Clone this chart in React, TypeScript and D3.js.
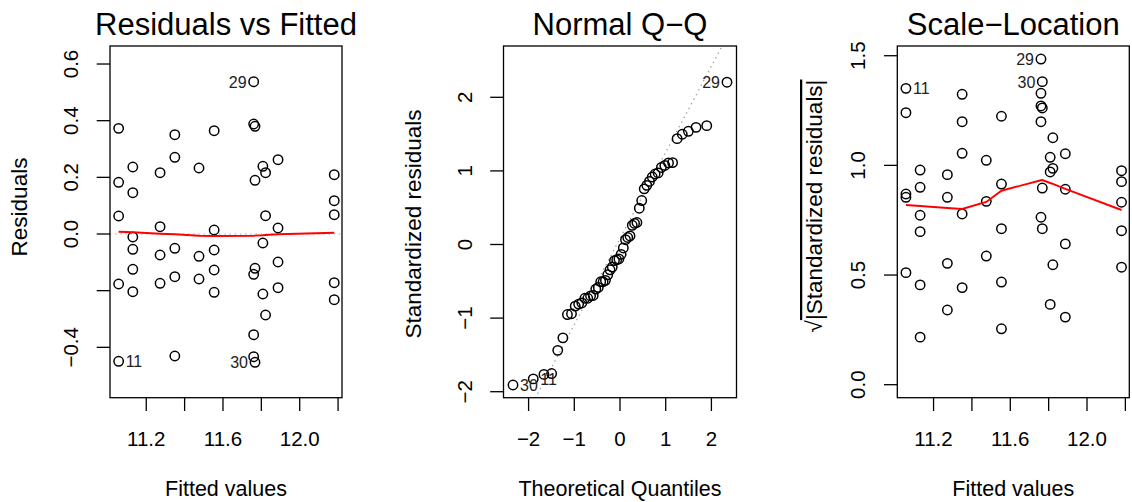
import React from "react";
import * as d3 from "d3";

const FONT = "'Liberation Sans', Arial, Helvetica, sans-serif";

// ---------------- data ----------------
// fitted value of each observation (11 fitted levels, one split in two)
const fitted = [
  11.056, 11.056, 11.056, 11.056, 11.056,
  11.13, 11.13, 11.13, 11.13, 11.13, 11.13,
  11.272, 11.272, 11.272, 11.272,
  11.349, 11.349, 11.349, 11.349, 11.349,
  11.475, 11.475, 11.475,
  11.554, 11.554, 11.554, 11.554, 11.554,
  11.76, 11.76, 11.76, 11.76, 11.76,
  11.767, 11.767, 11.767, 11.767,
  11.808, 11.808, 11.808,
  11.822, 11.822, 11.822,
  11.887, 11.887, 11.887, 11.887,
  12.18, 12.18, 12.18, 12.18, 12.18,
];
const residuals = [
  0.373, 0.1825, 0.0635, -0.1765, -0.4493,
  0.2365, 0.1458, -0.0106, -0.054, -0.1246, -0.2037,
  0.2164, 0.0258, -0.0741, -0.174,
  0.3505, 0.2707, -0.0505, -0.1507, -0.4306,
  0.233, -0.0787, -0.1588,
  0.3646, 0.0141, -0.0565, -0.1271, -0.2058,
  0.5376, 0.3883, -0.1423, -0.3555, -0.4331,
  0.3802, 0.1896, -0.1211, -0.4529,
  0.239, -0.0318, -0.2118,
  0.2164, 0.0646, -0.2859,
  0.2623, 0.0212, -0.0988, -0.1896,
  0.2093, 0.1176, 0.0681, -0.1719, -0.2319,
];
const stdResiduals = [
  1.538, 0.756, 0.261, -0.73, -1.826,
  0.958, 0.597, -0.047, -0.207, -0.487, -0.81,
  0.917, 0.116, -0.306, -0.73,
  1.438, 1.113, -0.196, -0.606, -1.753,
  1.047, -0.344, -0.699,
  1.498, 0.065, -0.219, -0.506, -0.837,
  2.205, 1.615, -0.583, -1.438, -1.765,
  1.592, 0.804, -0.506, -1.909,
  1.075, -0.134, -0.941,
  0.973, 0.299, -1.268,
  1.109, 0.095, -0.412, -0.794,
  0.857, 0.493, 0.287, -0.692, -0.952,
];
// observation ids of the labelled points (index into the arrays above)
const idIndex = [4, 28, 36];
const idLabels = ["11", "29", "30"];

// lowess smooths read at each fitted level
const smoothX = [11.056, 11.13, 11.272, 11.349, 11.475, 11.554, 11.76, 11.767, 11.808, 11.822, 11.887, 12.18];
const smoothResid = [0.0081, 0.006, 0.0011, -0.0011, -0.006, -0.0071, -0.006, -0.0058, -0.0046, -0.0035, -0.0011, 0.0046];
const smoothScale = [0.8193, 0.8147, 0.8056, 0.8011, 0.833, 0.8845, 0.932, 0.933, 0.9196, 0.9155, 0.8927, 0.7965];

// axes
const fitTicks = [11.2, 11.4, 11.6, 11.8, 12.0, 12.2];
const fitTickLabels = ["11.2", "", "11.6", "", "12.0", ""];
const residTicks = [-0.4, -0.2, 0, 0.2, 0.4, 0.6];
const residTickLabels = ["\u22120.4", "", "0.0", "0.2", "0.4", "0.6"];
const qTicks = [-2, -1, 0, 1, 2];
const qTickLabels = ["\u22122", "\u22121", "0", "1", "2"];
const slTicks = [0, 0.5, 1, 1.5];
const slTickLabels = ["0.0", "0.5", "1.0", "1.5"];

const titles = ["Residuals vs Fitted", "Normal Q\u2212Q", "Scale\u2212Location"];
const xLabels = ["Fitted values", "Theoretical Quantiles", "Fitted values"];

// ---------------- helpers ----------------
function qnorm(p: number): number {
  const a = [-3.969683028665376e1, 2.209460984245205e2, -2.759285104469687e2, 1.38357751867269e2, -3.066479806614716e1, 2.506628277459239];
  const b = [-5.447609879822406e1, 1.615858368580409e2, -1.556989798598866e2, 6.680131188771972e1, -1.328068155288572e1];
  const c = [-7.784894002430293e-3, -3.223964580411365e-1, -2.400758277161838, -2.549732539343734, 4.374664141464968, 2.938163982698783];
  const d = [7.784695709041462e-3, 3.224671290700398e-1, 2.445134137142996, 3.754408661907416];
  const pl = 0.02425;
  if (p < pl) {
    const q = Math.sqrt(-2 * Math.log(p));
    return (((((c[0] * q + c[1]) * q + c[2]) * q + c[3]) * q + c[4]) * q + c[5]) / ((((d[0] * q + d[1]) * q + d[2]) * q + d[3]) * q + 1);
  }
  if (p > 1 - pl) {
    const q = Math.sqrt(-2 * Math.log(1 - p));
    return -(((((c[0] * q + c[1]) * q + c[2]) * q + c[3]) * q + c[4]) * q + c[5]) / ((((d[0] * q + d[1]) * q + d[2]) * q + d[3]) * q + 1);
  }
  const q = p - 0.5;
  const r = q * q;
  return ((((((a[0] * r + a[1]) * r + a[2]) * r + a[3]) * r + a[4]) * r + a[5]) * q) / (((((b[0] * r + b[1]) * r + b[2]) * r + b[3]) * r + b[4]) * r + 1);
}

type Box = { x0: number; x1: number; y0: number; y1: number };

const TOP = 46;
const BOTTOM = 397.7;
const boxes: Box[] = [
  { x0: 110, x1: 342, y0: TOP, y1: BOTTOM },
  { x0: 503.5, x1: 736.5, y0: TOP, y1: BOTTOM },
  { x0: 897.3, x1: 1129.3, y0: TOP, y1: BOTTOM },
];

const STROKE = 1.3;
const TICK = 13.3;
const TICK_FS = 20.5;
const XLAB_FS = 21.5;
const YLAB_FS = 22.5;

function Frame({ box, x, y, xt, xtl, yt, ytl, title, xlab, ylab, ylabY, ylabX }: any) {
  const cx = (box.x0 + box.x1) / 2;
  return (
    <g>
      <rect x={box.x0} y={box.y0} width={box.x1 - box.x0} height={box.y1 - box.y0} fill="none" stroke="#000" strokeWidth={STROKE} />
      {xt.map((t: number, i: number) => (
        <g key={"x" + i}>
          <line x1={x(t)} x2={x(t)} y1={box.y1} y2={box.y1 + TICK} stroke="#000" strokeWidth={STROKE} />
          {xtl[i] ? (
            <text x={x(t)} y={446} textAnchor="middle" fontSize={TICK_FS} fontFamily={FONT}>{xtl[i]}</text>
          ) : null}
        </g>
      ))}
      {yt.map((t: number, i: number) => (
        <g key={"y" + i}>
          <line x1={box.x0 - TICK} x2={box.x0} y1={y(t)} y2={y(t)} stroke="#000" strokeWidth={STROKE} />
          {ytl[i] ? (
            <text transform={`translate(${box.x0 - 32},${y(t)}) rotate(-90)`} textAnchor="middle" fontSize={TICK_FS} fontFamily={FONT}>{ytl[i]}</text>
          ) : null}
        </g>
      ))}
      <text x={cx} y={35} textAnchor="middle" fontSize={31} fontFamily={FONT}>{title}</text>
      <text x={cx} y={496} textAnchor="middle" fontSize={XLAB_FS} fontFamily={FONT}>{xlab}</text>
      <text transform={`translate(${ylabX},${ylabY}) rotate(-90)`} textAnchor="middle" fontSize={YLAB_FS} fontFamily={FONT}>{ylab}</text>
    </g>
  );
}

function Points({ xs, ys, x, y }: any) {
  return (
    <g>
      {xs.map((v: number, i: number) => (
        <circle key={i} cx={x(v)} cy={y(ys[i])} r={4.7} fill="none" stroke="#000" strokeWidth={1.5} />
      ))}
    </g>
  );
}

export default function App() {
  const n = fitted.length;

  // Panel 1
  const b1 = boxes[0];
  const x1 = d3.scaleLinear().domain([11.011, 12.2205]).range([b1.x0, b1.x1]);
  const y1 = d3.scaleLinear().domain([-0.5778, 0.6636]).range([b1.y1, b1.y0]);
  const smooth1 = d3.line<number>().x((_, i) => x1(smoothX[i])).y((d) => y1(d))(smoothResid) || "";

  // Panel 2
  const b2 = boxes[1];
  const x2 = d3.scaleLinear().domain([-2.549, 2.549]).range([b2.x0, b2.x1]);
  const y2 = d3.scaleLinear().domain([-2.0815, 2.697]).range([b2.y1, b2.y0]);
  const order = d3.range(n).sort((a, b) => stdResiduals[a] - stdResiduals[b]);
  const sorted = order.map((i) => stdResiduals[i]);
  const theo = d3.range(n).map((i) => qnorm((i + 1 - 0.5) / n));
  const yq1 = d3.quantile(sorted, 0.25) as number;
  const yq3 = d3.quantile(sorted, 0.75) as number;
  const xq1 = qnorm(0.25);
  const xq3 = qnorm(0.75);
  const slope = (yq3 - yq1) / (xq3 - xq1);
  const intercept = yq1 - slope * xq1;
  const qxA = -2.549;
  const qxB = 2.549;

  // Panel 3
  const b3 = boxes[2];
  const x3 = d3.scaleLinear().domain([11.011, 12.2205]).range([b3.x0, b3.x1]);
  const y3 = d3.scaleLinear().domain([-0.0593, 1.5443]).range([b3.y1, b3.y0]);
  const sqrtAbs = stdResiduals.map((v) => Math.sqrt(Math.abs(v)));
  const smooth3 = d3.line<number>().x((_, i) => x3(smoothX[i])).y((d) => y3(d))(smoothScale) || "";

  const theoOf = (idx: number) => theo[order.indexOf(idx)];

  return (
    <svg width={1132} height={502} style={{ position: "absolute", left: 0, top: 0, background: "#fff" }}>
      <defs>
        {boxes.map((b, i) => (
          <clipPath id={"clip" + i} key={i}>
            <rect x={b.x0} y={b.y0} width={b.x1 - b.x0} height={b.y1 - b.y0} />
          </clipPath>
        ))}
      </defs>
      <rect x={0} y={0} width={1132} height={502} fill="#fff" />

      {/* Panel 1 */}
      <g clipPath="url(#clip0)">
        <line x1={b1.x0} x2={b1.x1} y1={y1(0)} y2={y1(0)} stroke="#bebebe" strokeWidth={1.3} strokeDasharray="1.3 3.9" />
        <Points xs={fitted} ys={residuals} x={x1} y={y1} />
        <path d={smooth1} fill="none" stroke="#ff0000" strokeWidth={1.9} />
      </g>
      {idIndex.map((idx, k) => {
        const left = fitted[idx] > (11.011 + 12.2205) / 2;
        const px = x1(fitted[idx]);
        return (
          <text key={k} x={left ? px - 7 : px + 7} y={y1(residuals[idx])} dy="0.38em" textAnchor={left ? "end" : "start"} fontSize={16} fontFamily={FONT} fill="#222">
            {idLabels[k]}
          </text>
        );
      })}
      <Frame box={b1} x={x1} y={y1} xt={fitTicks} xtl={fitTickLabels} yt={residTicks} ytl={residTickLabels} title={titles[0]} xlab={xLabels[0]} ylab="Residuals" ylabX={27} ylabY={207} />

      {/* Panel 2 */}
      <g clipPath="url(#clip1)">
        <line x1={x2(qxA)} x2={x2(qxB)} y1={y2(intercept + slope * qxA)} y2={y2(intercept + slope * qxB)} stroke="#9a9a9a" strokeWidth={1.3} strokeDasharray="1.3 3.9" />
        <Points xs={theo} ys={sorted} x={x2} y={y2} />
      </g>
      {idIndex.map((idx, k) => {
        const tq = theoOf(idx);
        const left = tq > 0;
        const px = x2(tq);
        return (
          <text key={k} x={left ? px - 7 : px + 7} y={y2(stdResiduals[idx])} dy="0.38em" textAnchor={left ? "end" : "start"} fontSize={16} fontFamily={FONT} fill="#222">
            {idLabels[k]}
          </text>
        );
      })}
      <Frame box={b2} x={x2} y={y2} xt={qTicks} xtl={qTickLabels} yt={qTicks} ytl={qTickLabels} title={titles[1]} xlab={xLabels[1]} ylab="Standardized residuals" ylabX={421} ylabY={224} />

      {/* Panel 3 */}
      <g clipPath="url(#clip2)">
        <Points xs={fitted} ys={sqrtAbs} x={x3} y={y3} />
        <path d={smooth3} fill="none" stroke="#ff0000" strokeWidth={1.9} />
      </g>
      {idIndex.map((idx, k) => {
        const left = fitted[idx] > (11.011 + 12.2205) / 2;
        const px = x3(fitted[idx]);
        return (
          <text key={k} x={left ? px - 7 : px + 7} y={y3(sqrtAbs[idx])} dy="0.38em" textAnchor={left ? "end" : "start"} fontSize={16} fontFamily={FONT} fill="#222">
            {idLabels[k]}
          </text>
        );
      })}
      <Frame
        box={b3}
        x={x3}
        y={y3}
        xt={fitTicks}
        xtl={fitTickLabels}
        yt={slTicks}
        ytl={slTickLabels}
        title={titles[2]}
        xlab={xLabels[2]}
        ylab={
          <>
            {"\u221A"}
            <tspan style={{ textDecoration: "overline" }}>|Standardized residuals|</tspan>
          </>
        }
        ylabX={822}
        ylabY={206}
      />
    </svg>
  );
}
